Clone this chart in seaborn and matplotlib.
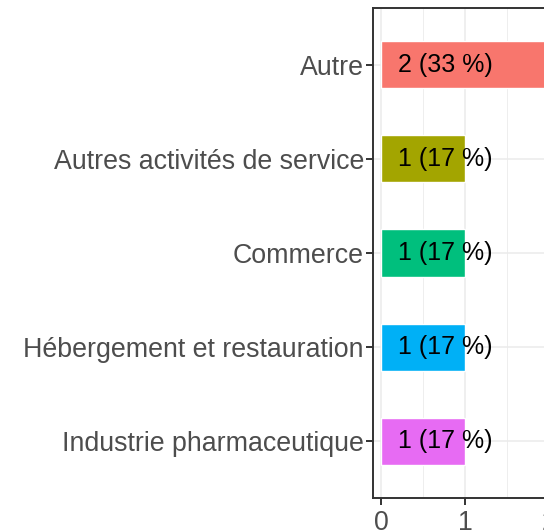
import pandas as pd
import matplotlib.pyplot as plt
import seaborn as sns
from matplotlib.ticker import MultipleLocator

# categories and counts
categories = ["Autre", "Autres activités de service", "Commerce",
              "Hébergement et restauration", "Industrie pharmaceutique"]
counts = [2, 1, 1, 1, 1]
colors = ["#F8766D", "#A3A500", "#00BF7D", "#00B0F6", "#E76BF3"]
x_ticks = [0, 1, 2]

total = sum(counts)
labels = [f"{c} ({round(100 * c / total)} %)" for c in counts]

df = pd.DataFrame({"secteur": categories, "n": counts})

sns.set_style("white")
plt.rcParams['font.family'] = ['Liberation Sans', 'DejaVu Sans']

fig = plt.figure(figsize=(5.44, 5.30), dpi=100)
# panel runs past the right edge like the cropped original
ax = fig.add_axes([373 / 544, 32 / 530, 184 / 544, 490 / 530])

sns.barplot(data=df, y="secteur", x="n", hue="secteur", palette=colors,
            order=categories, orient="h", width=0.5, legend=False,
            saturation=1, ax=ax, zorder=2)

for i, lab in enumerate(labels):
    ax.text(0.2, i, lab, ha="left", va="center", fontsize=18, color="black", zorder=3)

ax.set_xlim(-0.1, 2.1)
ax.set_ylim(4.6, -0.6)
ax.set_xticks(x_ticks)
ax.xaxis.set_minor_locator(MultipleLocator(0.5))
ax.grid(True, which="major", color="#EBEBEB", linewidth=1.1, zorder=0)
ax.grid(True, which="minor", axis="x", color="#EBEBEB", linewidth=0.6, zorder=0)
ax.set_axisbelow(True)

ax.set_xlabel("")
ax.set_ylabel("")
ax.tick_params(axis="both", which="major", length=5, width=1.4, color="#333333",
               labelsize=19.3, labelcolor="#4D4D4D", left=True, bottom=True)
ax.tick_params(axis="y", pad=1.5)
ax.tick_params(axis="x", pad=3.5)
ax.tick_params(axis="x", which="minor", length=0)
for s in ax.spines.values():
    s.set_color("#333333")
    s.set_linewidth(1.4)

fig.savefig("out.png", dpi=100)
